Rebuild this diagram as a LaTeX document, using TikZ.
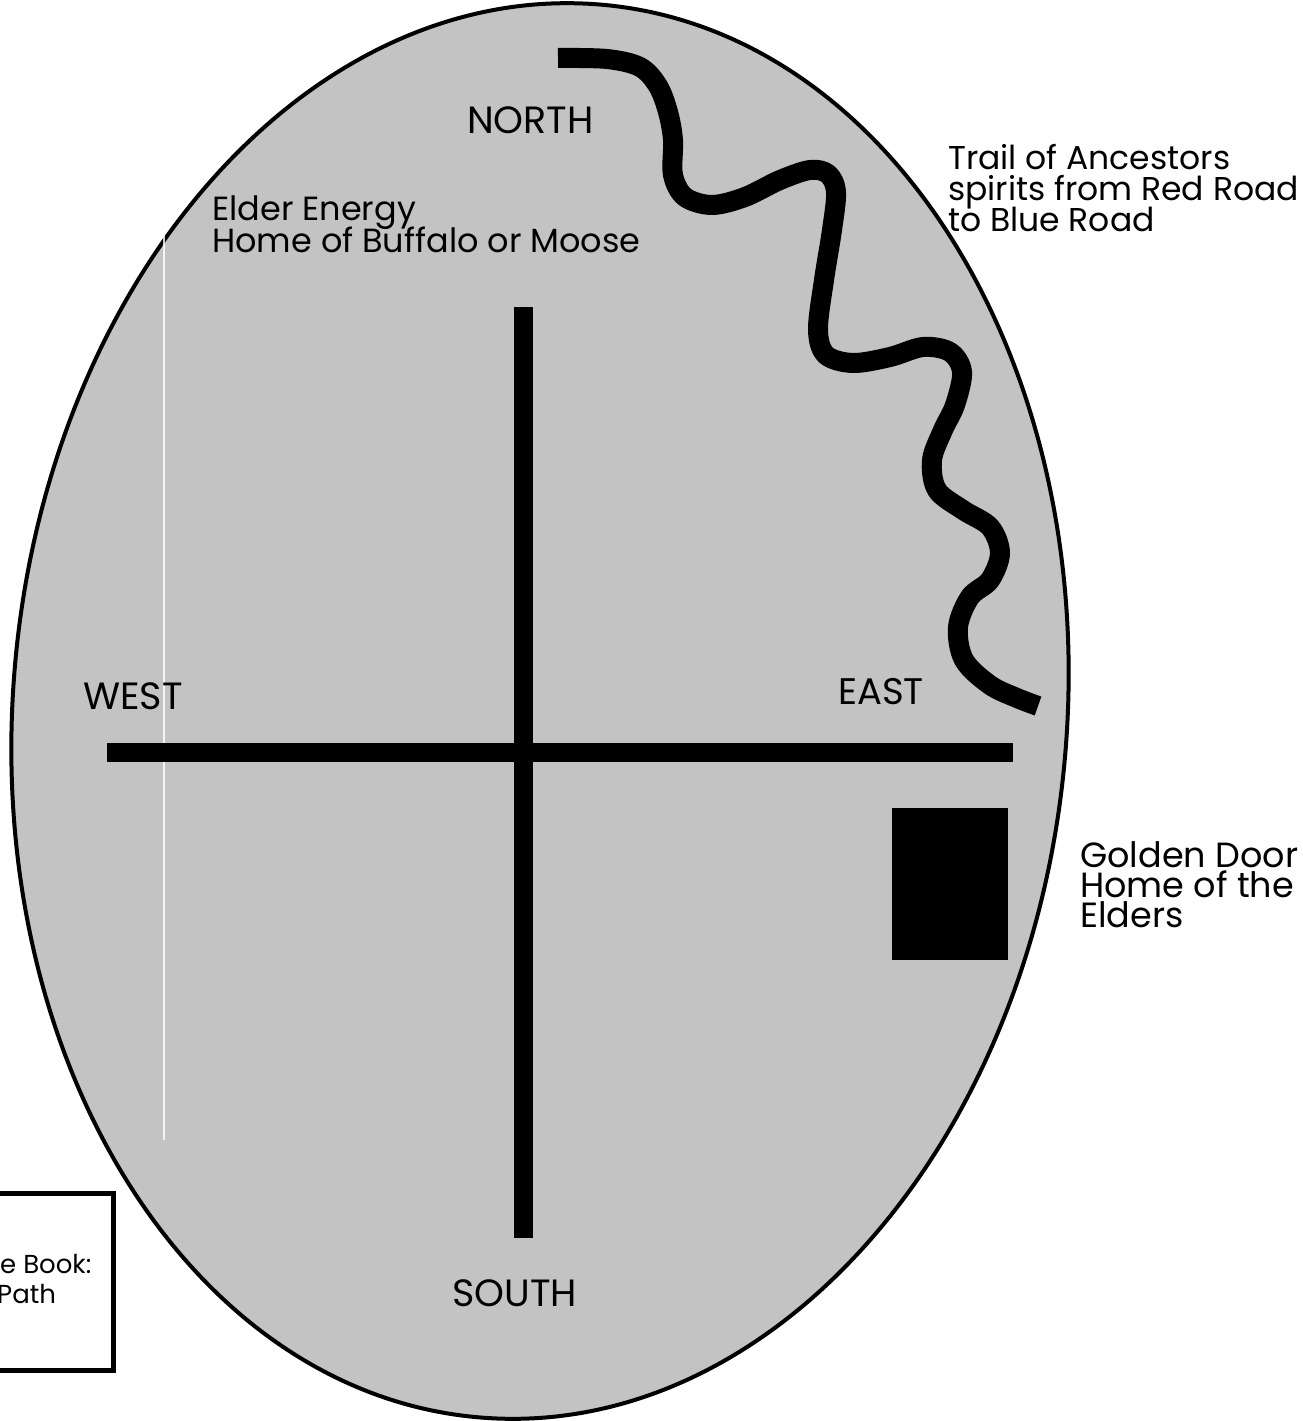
\documentclass[tikz,border=0pt]{standalone}
\usepackage{fontspec}
\setmainfont{Poppins}
\definecolor{egg}{RGB}{195,195,195}
\begin{document}
\lineskiplimit=-30pt\relax
\begin{tikzpicture}[x=1pt,y=-1pt,
  lbl/.style={inner sep=0pt, anchor=base west},
  mlbl/.style={inner sep=0pt, anchor=north west, align=left},
  bar/.style={line width=19pt, line cap=butt},
  trail/.style={line width=20pt, line cap=butt, line join=round}]
\useasboundingbox (0,0) rectangle (1303,1421);
\clip (0,0) rectangle (1303,1421);
\fill[white] (0,0) rectangle (1303,1421);
% egg
\draw[line width=4pt, fill=egg, rotate around={-5:(540,711)}] (540,711) ellipse [x radius=527, y radius=709];
\draw[white, line width=2.5pt, opacity=0.8] (164,230) -- (164,1140);
% cross
\coordinate (ntop) at (523,307);
\coordinate (sbot) at (523,1238);
\coordinate (wend) at (107,752);
\coordinate (eend) at (1013,752);
\draw[bar] (ntop) -- (sbot);
\draw[bar] (wend) -- (eend);
% golden door
\node (door) [fill=black, inner sep=0pt, minimum width=116pt, minimum height=152pt, anchor=north west] at (892,808) {};
% trail of ancestors
\draw[trail] plot[smooth, tension=0.55] coordinates {
 (558,58) (607,59) (640,67) (658,86) (668,112) (673,140) (673,175)
 (685,197) (712,205) (745,197) (780,180) (810,170) (828,174) (836,192)
 (832,230) (824,280) (818,330) (826,355) (853,363) (890,357) (923,347)
 (950,352) (962,372) (955,405) (943,430) (932,460) (937,490) (963,510)
 (990,527) (1000,553) (990,580) (970,597) (958,627) (964,660) (990,685)
 (1017,698) (1038,706)};
% box
\draw[line width=5pt] (-10,1193) rectangle (113,1370);
% labels
\node (north) [lbl, font=\fontsize{38}{40}\selectfont] at (467,133) {NORTH};
\node (south) [lbl, font=\fontsize{38}{40}\selectfont] at (452,1306) {SOUTH};
\node (west) [lbl, font=\fontsize{38}{40}\selectfont] at (83,709) {WEST};
\node (east) [lbl, font=\fontsize{37}{40}\selectfont] at (838,704) {EAST};
\node (elder) [mlbl, font=\fontsize{33.5}{32}\selectfont] at (212,196) {Elder Energy\\Home of Buffalo or Moose};
\node (trail) [mlbl, font=\fontsize{33}{31}\selectfont] at (948,144) {Trail of Ancestors\\spirits from Red Road\\to Blue Road};
\node (gold) [mlbl, font=\fontsize{35}{30}\selectfont] at (1080,841) {Golden Door\\Home of the\\Elders};
\node (book) [mlbl, font=\fontsize{26}{30}\selectfont] at (0,1254) {e Book:\\\hspace*{-3pt}Path};
\end{tikzpicture}
\end{document}
